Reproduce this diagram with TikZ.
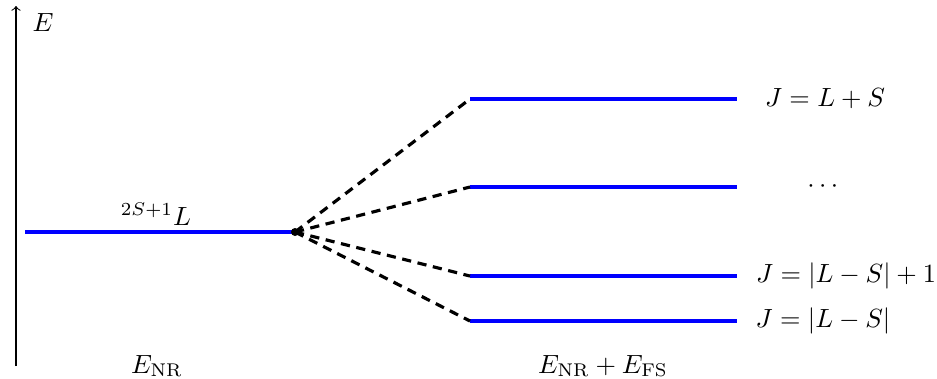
\documentclass[tikz,border=0pt]{standalone}
\usepackage{amsmath}
\begin{document}
\begin{tikzpicture}[x=0.38pt,y=-0.38pt,
  level/.style={blue,line width=1.3pt},
  split/.style={black,line width=1.2pt,dash pattern=on 3.5pt off 2.5pt},
  lbl/.style={inner sep=0pt}]
\useasboundingbox (0,0) rectangle (937,378);
% axis
\coordinate (a0) at (16,366);
\coordinate (a1) at (16,6);
\draw[->] (a0) -- (a1);
\node[lbl] (E) at (43,22) {$E$};
% left level
\coordinate (l0) at (25,232);
\coordinate (c) at (295,232);
\draw[level] (l0) -- (c);
\node[lbl] (term) at (156,214) {${}^{2S+1}L$};
% right levels
\foreach \n/\y in {1/99,2/187,3/276,4/321}{
  \coordinate (r\n) at (470,\y);
  \coordinate (s\n) at (737,\y);
  \draw[level] (r\n) -- (s\n);
  \draw[split] (c) -- (r\n);
}
\fill (c) circle (4);
\node[lbl] (j1) at (825,99) {$J = L + S$};
\node[lbl] (j2) at (825,187) {$\cdots$};
\node[lbl] (j3) at (846,276) {$J = |L - S| + 1$};
\node[lbl] (j4) at (823,321) {$J = |L - S|$};
\node[lbl] (enr) at (157,366) {$E_{\mathrm{NR}}$};
\node[lbl] (efs) at (603,366) {$E_{\mathrm{NR}} + E_{\mathrm{FS}}$};
\end{tikzpicture}
\end{document}
